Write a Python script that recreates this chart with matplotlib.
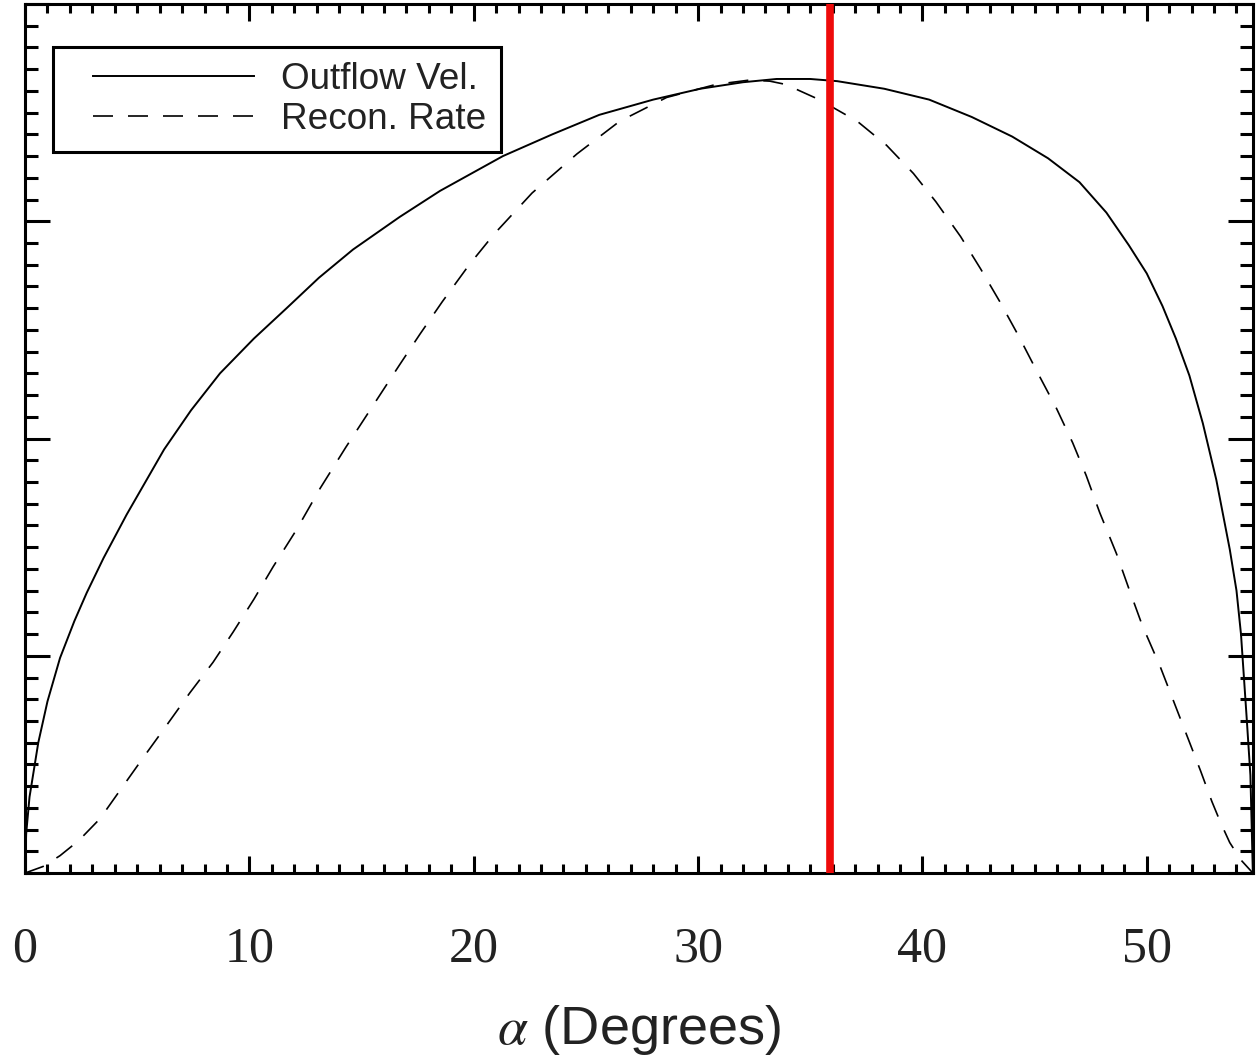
import matplotlib
matplotlib.use('Agg')
import matplotlib.pyplot as plt
from matplotlib.ticker import MultipleLocator
from matplotlib.legend_handler import HandlerLine2D

# values (alpha in degrees, arbitrary y units)
alpha_vel = [0.0, 0.05, 0.2, 0.59, 1.0, 1.56, 2.2, 2.75, 3.5, 4.53, 6.2, 7.4, 8.69,
             10.2, 11.66, 13.1, 14.62, 16.7, 18.5, 21.3, 23.5, 25.6, 28.0, 30.1,
             32.0, 33.5, 35.0, 36.2, 38.3, 40.3, 42.2, 44.0, 45.6, 47.0, 48.2, 49.2,
             50.0, 50.7, 51.3, 51.9, 52.5, 53.1, 53.7, 54.0, 54.2, 54.45, 54.62, 54.73]
outflow_vel = [0.0, 0.18, 0.35, 0.60, 0.79, 0.99, 1.16, 1.29, 1.45, 1.65, 1.95, 2.13, 2.30,
               2.46, 2.60, 2.74, 2.87, 3.02, 3.14, 3.30, 3.40, 3.49, 3.56, 3.61,
               3.64, 3.655, 3.655, 3.645, 3.61, 3.56, 3.48, 3.39, 3.29, 3.18, 3.04, 2.89,
               2.76, 2.61, 2.46, 2.29, 2.07, 1.81, 1.49, 1.30, 1.10, 0.72, 0.45, 0.0]

alpha_rate = [0.0, 0.8, 1.56, 2.4, 3.34, 4.23, 5.26, 6.31, 7.35, 8.38, 9.28, 10.2, 11.06,
              12.1, 13.15, 14.3, 15.5, 16.7, 17.6, 18.6, 19.8, 20.9, 22.6, 24.6, 26.5,
              28.6, 30.8, 32.3, 33.2, 33.9, 35.4, 37.1, 38.4, 39.6, 40.6, 41.7, 42.6,
              43.45, 44.3, 45.1, 45.97, 46.7, 47.3, 47.9, 48.65, 49.2, 49.8, 50.6, 51.2,
              51.8, 52.4, 52.9, 53.3, 53.7, 54.2, 54.73]
recon_rate = [0.0, 0.03, 0.08, 0.15, 0.25, 0.38, 0.53, 0.68, 0.83, 0.97, 1.11, 1.26, 1.41,
              1.58, 1.77, 1.96, 2.15, 2.34, 2.48, 2.63, 2.80, 2.94, 3.13, 3.31, 3.46,
              3.57, 3.63, 3.65, 3.645, 3.63, 3.56, 3.46, 3.35, 3.22, 3.09, 2.93, 2.78,
              2.63, 2.47, 2.31, 2.14, 1.98, 1.83, 1.66, 1.47, 1.31, 1.14, 0.95, 0.79,
              0.63, 0.47, 0.33, 0.23, 0.14, 0.06, 0.0]

alpha_marker = 35.9
x_ticks = [0, 10, 20, 30, 40, 50]

plt.rcParams['mathtext.fontset'] = 'stix'

fig = plt.figure(figsize=(12.58, 10.59), dpi=100)
ax = fig.add_axes([0.0199, 0.1756, 0.9762, 0.8206])

ax.plot(alpha_vel, outflow_vel, color='black', linewidth=1.4, label='Outflow Vel.')
ax.plot(alpha_rate, recon_rate, color='black', linewidth=1.2,
        linestyle=(0, (12, 9)), label='Recon. Rate')
ax.axvline(alpha_marker, color='#ee0a0a', linewidth=5.5, zorder=3)

ax.set_xlim(0, 54.74)
ax.set_ylim(0, 4)

ax.set_xticks(x_ticks)
ax.xaxis.set_minor_locator(MultipleLocator(1))
ax.yaxis.set_major_locator(MultipleLocator(1))
ax.yaxis.set_minor_locator(MultipleLocator(0.1))

ax.tick_params(axis='both', which='both', direction='in', top=True, right=True,
               labelleft=False, width=2.2, color='black')
ax.tick_params(axis='x', which='major', length=12.5, pad=38)
ax.tick_params(axis='x', which='minor', length=6.5)
ax.tick_params(axis='y', which='major', length=18)
ax.tick_params(axis='y', which='minor', length=9.5)

for lbl in ax.get_xticklabels():
    lbl.set_family('Liberation Serif')
    lbl.set_fontsize(36)
    lbl.set_color('#222222')

for sp in ax.spines.values():
    sp.set_linewidth(2.2)

ax.set_xlabel(r'$\alpha$ (Degrees)', fontsize=39, family='Liberation Sans',
              color='#222222', labelpad=22)

# xpad pushes the sample line right, as in the original legend
handler = HandlerLine2D(xpad=0.68)
leg = ax.legend(loc='upper left', bbox_to_anchor=(0.0228, 0.9505), borderaxespad=0,
                fancybox=False, frameon=True, edgecolor='black', framealpha=1,
                prop={'family': 'Liberation Sans', 'size': 26.6},
                handlelength=5.05, handletextpad=0.72, labelspacing=0.14,
                borderpad=0.4,
                handler_map={plt.Line2D: handler})
leg.get_frame().set_linewidth(2.2)
for t in leg.get_texts():
    t.set_color('#222222')

fig.savefig('out.png', dpi=100)
